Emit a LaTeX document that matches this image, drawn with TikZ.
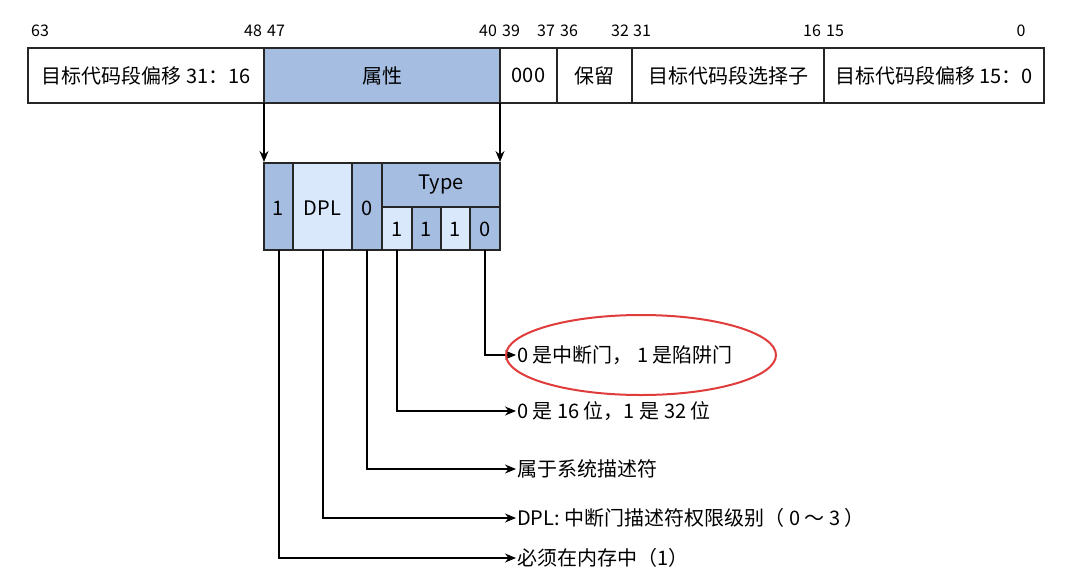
\documentclass[tikz,border=0pt]{standalone}
\usepackage{fontspec}
\setmainfont{Noto Sans CJK SC}
\usetikzlibrary{arrows.meta,shapes.geometric}
\definecolor{dblue}{HTML}{A4BDE0}
\definecolor{lblue}{HTML}{DAE8FC}
\definecolor{ered}{HTML}{E03C3C}
\begin{document}
\begin{tikzpicture}[x=1pt,y=-1pt,
  font=\fontsize{20}{22}\selectfont,
  cell/.style={draw=black!85,line width=1.2pt,inner sep=0pt},
  bit/.style={inner sep=0pt,font=\fontsize{16}{18}\selectfont},
  conn/.style={line width=1.2pt,-{Stealth[length=11pt,width=9pt]}},
  lab/.style={anchor=west,inner sep=1pt}]
\useasboundingbox (0,0) rectangle (1074,582);
\fill[white] (0,0) rectangle (1074,582);
\draw[cell,fill=white] (28,48) rectangle (264,103);
\node (t1) at (146,75.5) {目标代码段偏移 31：16};
\draw[cell,fill=dblue] (264,48) rectangle (500,103);
\node (t2) at (382,75.5) {属性};
\draw[cell,fill=white] (500,48) rectangle (557,103);
\node (t3) at (528.5,75.5) {000};
\draw[cell,fill=white] (557,48) rectangle (632,103);
\node (t4) at (594.5,75.5) {保留};
\draw[cell,fill=white] (632,48) rectangle (824,103);
\node (t5) at (728,75.5) {目标代码段选择子};
\draw[cell,fill=white] (824,48) rectangle (1044,103);
\node (t6) at (934,75.5) {目标代码段偏移 15：0};
\foreach \x/\t in {40/63,253/48,276/47,488/40,511/39,546/37,569/36,620/32,642/31,812/16,835/15,1021/0}
  \node[bit] at (\x,31) {\t};
\coordinate (a1) at (264,103); \coordinate (a1e) at (264,162);
\coordinate (a2) at (500,103); \coordinate (a2e) at (500,162);
\draw[conn] (a1) -- (a1e);
\draw[conn] (a2) -- (a2e);
\draw[cell,fill=dblue] (264,163) rectangle (293,250);
\node (b1) at (278.5,208) {1};
\draw[cell,fill=lblue] (293,163) rectangle (352,250);
\node (b2) at (322.5,208) {DPL};
\draw[cell,fill=dblue] (352,163) rectangle (382,250);
\node (b3) at (367,208) {0};
\draw[cell,fill=dblue] (382,163) rectangle (500,207);
\node at (441,185) {Type};
\draw[cell,fill=lblue] (382,207) rectangle (412,250);
\node (c1) at (397,229) {1};
\draw[cell,fill=dblue] (412,207) rectangle (441,250);
\node at (426.5,229) {1};
\draw[cell,fill=lblue] (441,207) rectangle (470,250);
\node at (455.5,229) {1};
\draw[cell,fill=dblue] (470,207) rectangle (500,250);
\node (c4) at (485,229) {0};
\node[lab] (l1) at (516,355) {0 是中断门， 1 是陷阱门};
\node[lab] (l2) at (516,411) {0 是 16 位，1 是 32 位};
\node[lab] (l3) at (516,469) {属于系统描述符};
\node[lab] (l4) at (516,518) {DPL: 中断门描述符权限级别（ 0 ～ 3 ）};
\node[lab] (l5) at (516,558) {必须在内存中（1）};
\draw[conn] (485,250) |- (l1.west);
\draw[conn] (397,250) |- (l2.west);
\draw[conn] (367,250) |- (l3.west);
\draw[conn] (323,250) |- (l4.west);
\draw[conn] (279,250) |- (l5.west);
\node[draw=ered,line width=2pt,ellipse,minimum width=270pt,minimum height=80pt] (el) at (641,355) {};
\end{tikzpicture}
\end{document}
